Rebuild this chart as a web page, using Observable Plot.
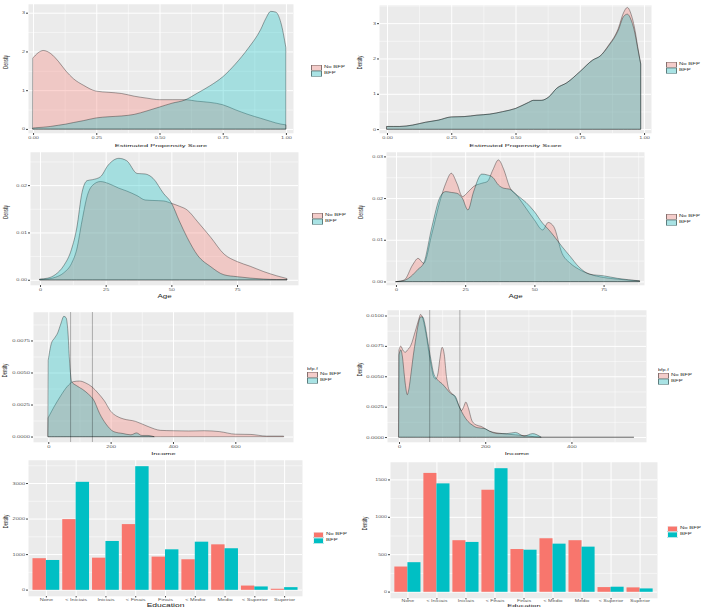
<!DOCTYPE html>
<html><head><meta charset="utf-8">
<script src="https://cdn.jsdelivr.net/npm/d3@7"></script>
<script src="https://cdn.jsdelivr.net/npm/@observablehq/plot@0.6"></script>
<style>
body{margin:0;background:#fff;}
#root{position:relative;width:708px;height:609px;overflow:hidden;font-family:"Liberation Sans",Arial,Helvetica,sans-serif;background:#fff;}
.panel{position:absolute;}
.panel svg path,.panel svg line{vector-effect:non-scaling-stroke;}
.legend{position:absolute;transform-origin:0 0;font-size:6px;color:#333;white-space:nowrap;}
.legend div{position:absolute;}
</style></head><body><div id="root"></div>
<script>
// ---------- data ----------
const groups = ["No BFP", "BFP"];
const groupColors = ["#F8766D", "#00BFC4"];

// Propensity score, before matching
const ps1X = [0,0.02,0.04,0.07,0.1,0.13,0.16,0.2,0.25,0.3,0.35,0.4,0.45,0.5,0.55,0.6,0.65,0.7,0.75,0.8,0.85,0.9,0.92,0.94,0.96,0.98,1.0];
const ps1NoBfp = [1.84,1.97,2.03,1.95,1.75,1.5,1.3,1.13,0.98,0.95,0.92,0.85,0.8,0.76,0.76,0.76,0.72,0.69,0.63,0.5,0.38,0.28,0.24,0.2,0.16,0.13,0.11];
const ps1Bfp = [0.03,0.04,0.05,0.07,0.1,0.13,0.17,0.22,0.29,0.32,0.34,0.38,0.47,0.57,0.67,0.75,0.93,1.12,1.35,1.68,2.08,2.57,2.85,3.04,3.02,2.75,2.1];
// Propensity score, after matching
const ps2X = [0,0.05,0.1,0.15,0.2,0.25,0.3,0.35,0.4,0.45,0.5,0.55,0.57,0.6,0.63,0.66,0.7,0.75,0.8,0.83,0.86,0.9,0.92,0.935,0.95,0.965,0.975,0.987];
const ps2NoBfp = [0.08,0.08,0.12,0.2,0.26,0.35,0.36,0.4,0.43,0.5,0.59,0.76,0.82,0.82,0.92,1.16,1.32,1.63,1.96,2.08,2.36,2.86,3.3,3.45,3.25,2.8,2.35,1.85];
const ps2Bfp = [0.08,0.08,0.12,0.2,0.26,0.35,0.36,0.4,0.43,0.5,0.59,0.76,0.82,0.82,0.92,1.16,1.32,1.63,1.96,2.08,2.34,2.81,3.19,3.26,3.09,2.7,2.3,1.85];
const psTicks = [0,0.25,0.5,0.75,1];
const psTickLabels = ["0.00","0.25","0.50","0.75","1.00"];
const ps1YTicks = [0,1,2,3];
const ps1YTickLabels = ["0","1","2","3"];

// Age, before matching
const age1X = [0,3,6,9,12,14,16,18,20,23,26,30,33,37,40,43,47,50,53,56,60,65,70,75,80,85,90,94];
const age1NoBfp = [0.0001,0.0002,0.0006,0.0015,0.0035,0.0065,0.0125,0.0178,0.0200,0.0208,0.0204,0.0194,0.0188,0.0178,0.0169,0.0168,0.0167,0.0162,0.0156,0.0148,0.0123,0.0090,0.0055,0.0039,0.0029,0.0018,0.0009,0.0003];
const age1Bfp = [0.0002,0.0004,0.0012,0.0030,0.0065,0.0110,0.0185,0.0210,0.0212,0.0218,0.0243,0.0257,0.0252,0.0225,0.0224,0.0215,0.0183,0.0163,0.0125,0.0090,0.0052,0.0028,0.0011,0.0007,0.0004,0.0002,0.0001,0.0001];
// Age, after matching
const age2X = [0,3,6,8,10,13,16,18,20,22,24,26,28,31,33,35,37,39,41,44,47,50,53,55,57,60,63,66,70,75,80,88];
const age2NoBfp = [0,0.0004,0.0040,0.0056,0.0044,0.0116,0.0196,0.0236,0.0260,0.0236,0.0204,0.0215,0.0228,0.0236,0.0240,0.0268,0.0292,0.0268,0.0228,0.0204,0.0176,0.0148,0.0124,0.0142,0.0132,0.0068,0.0044,0.0030,0.0018,0.0010,0.0006,0.0002];
const age2Bfp = [0,0.0003,0.0016,0.0030,0.0044,0.0132,0.0204,0.0216,0.0214,0.0212,0.0200,0.0172,0.0215,0.0258,0.0256,0.0250,0.0232,0.0224,0.0222,0.0206,0.0190,0.0168,0.0140,0.0126,0.0110,0.0084,0.0060,0.0036,0.0018,0.0014,0.0008,0.0002];
const ageTicks = [0,25,50,75];
const ageTickLabels = ["0","25","50","75"];
const age1YTicks = [0,0.01,0.02];
const age1YTickLabels = ["0.00","0.01","0.02"];
const age2YTicks = [0,0.01,0.02,0.03];
const age2YTickLabels = ["0.00","0.01","0.02","0.03"];

// Income, before matching
const inc1XNoBfp = [0,20,40,60,80,100,120,140,160,180,200,220,240,280,320,360,400,450,500,550,600,650,700,755];
const inc1NoBfp = [0.0015,0.0024,0.0032,0.0039,0.0043,0.00435,0.0042,0.0039,0.0034,0.0028,0.0020,0.0016,0.0014,0.0012,0.0008,0.0005,0.00047,0.00045,0.00047,0.0004,0.0002,0.00018,0.00005,0.00005];
const inc1XBfp = [0,10,20,30,40,50,57,63,68,75,90,110,130,145,165,185,210,240,265,283,300,320,340];
const inc1Bfp = [0.0060,0.0073,0.0077,0.0081,0.0088,0.0094,0.0093,0.0082,0.0060,0.0043,0.0040,0.0037,0.0033,0.0029,0.0018,0.0010,0.0004,0.00025,0.00015,0.0003,0.0001,0.0001,0];
// Income, after matching
const inc2XNoBfp = [0,4,10,15,20,25,30,35,40,45,50,55,60,65,70,75,80,85,90,95,100,105,110,115,120,130,140,145,150,155,160,170,180,190,210,240,270,300,330,545];
const inc2NoBfp = [0.0072,0.0075,0.0071,0.0070,0.0072,0.0074,0.0078,0.0084,0.0090,0.0096,0.0101,0.0098,0.0090,0.0080,0.0068,0.0058,0.0050,0.0048,0.0052,0.0065,0.0074,0.0068,0.0050,0.0040,0.0037,0.0033,0.0025,0.0022,0.0025,0.0029,0.0025,0.0013,0.0010,0.0009,0.0005,0.0003,0.0002,0.0001,0,0];
const inc2XBfp = [0,4,8,12,16,19,23,28,33,38,43,50,55,60,65,70,75,80,90,100,110,120,130,140,150,160,170,180,200,210,230,250,270,290,310,330];
const inc2Bfp = [0.0068,0.0072,0.0066,0.0052,0.0040,0.0035,0.0040,0.0053,0.0067,0.0079,0.0090,0.0099,0.0099,0.0093,0.0083,0.0072,0.0062,0.0053,0.0047,0.0044,0.0040,0.0036,0.0034,0.0025,0.0018,0.0013,0.0010,0.0008,0.0007,0.0005,0.0003,0.0003,0.0004,0.0001,0.0003,0];
const incomeCutoffs = [70, 140];
const inc1Ticks = [0,200,400,600];
const inc1TickLabels = ["0","200","400","600"];
const inc2Ticks = [0,200,400];
const inc2TickLabels = ["0","200","400"];
const inc1YTicks = [0,0.0025,0.005,0.0075];
const inc1YTickLabels = ["0.0000","0.0025","0.0050","0.0075"];
const inc2YTicks = [0,0.0025,0.005,0.0075,0.01];
const inc2YTickLabels = ["0.0000","0.0025","0.0050","0.0075","0.0100"];

// Education counts
const eduCats = ["None","< Iniciais","Iniciais","< Finais","Finais","< Medio","Medio","< Superior","Superior"];
const edu1NoBfp = [890,1990,905,1850,935,860,1280,120,30];
const edu1Bfp = [840,3040,1375,3480,1140,1355,1170,95,75];
const edu2NoBfp = [338,1590,690,1365,572,716,690,63,59];
const edu2Bfp = [396,1450,667,1653,563,644,604,68,45];
const edu1YTicks = [0,1000,2000,3000];
const edu1YTickLabels = ["0","1000","2000","3000"];
const edu2YTicks = [0,500,1000,1500];
const edu2YTickLabels = ["0","500","1000","1500"];

// ---------- rendering ----------
const S = 0.58; // vertical squash of the reference image
const FONT = '"Liberation Sans", Arial, Helvetica, sans-serif';
const root = document.getElementById("root");

function minorTicks(ticks, domain) {
  const step = ticks[1] - ticks[0];
  const out = [ticks[0] - step / 2, ...ticks.map(t => t + step / 2)];
  return out.filter(v => v > domain[0] && v < domain[1]);
}
function labeler(ticks, labels) {
  const m = new Map(ticks.map((t, i) => [t, labels[i]]));
  return d => m.get(d) ?? "";
}
function place(svg, cell) {
  const wrap = document.createElement("div");
  wrap.className = "panel";
  wrap.style.left = cell[0] + "px";
  wrap.style.top = cell[1] + "px";
  svg.setAttribute("preserveAspectRatio", "none");
  svg.setAttribute("height", cell[3]);
  svg.style.height = cell[3] + "px";
  svg.style.width = cell[2] + "px";
  svg.style.maxWidth = "none";
  svg.style.display = "block";
  wrap.appendChild(svg);
  root.appendChild(wrap);
}
function addLegend(x, y, title, solid, keyH) {
  const box = document.createElement("div");
  box.className = "legend";
  box.style.left = x + "px";
  box.style.top = y + "px";
  box.style.transform = `scale(1, ${S})`;
  const kh = keyH / S, kw = 11;
  if (title) {
    const t = document.createElement("div");
    t.textContent = title;
    t.style.left = "0px";
    t.style.top = (-8.5) + "px";
    t.style.fontSize = "5.5px";
    box.appendChild(t);
  }
  groups.forEach((g, i) => {
    const k = document.createElement("div");
    k.style.left = "0px";
    k.style.top = (i * kh) + "px";
    k.style.width = kw + "px";
    k.style.height = kh + "px";
    k.style.boxSizing = "border-box";
    if (solid) {
      k.style.background = groupColors[i];
      k.style.border = "1px solid #F2F2F2";
    } else {
      const c = d3.color(groupColors[i]); c.opacity = 0.3;
      k.style.background = `linear-gradient(${c}, ${c}), #F2F2F2`;
      k.style.border = "0.8px solid rgba(0,0,0,0.45)";
    }
    box.appendChild(k);
    const l = document.createElement("div");
    l.textContent = g;
    l.style.left = (kw + 2) + "px";
    l.style.top = (i * kh) + "px";
    l.style.lineHeight = kh + "px";
    box.appendChild(l);
  });
  root.appendChild(box);
}

function commonMarks(cfg) {
  const [cx, cy, cw, ch] = cfg.cell;
  const f = cfg.frame;
  return [
    Plot.text([cfg.xTitle], {text: d => d, frameAnchor: "bottom", dy: (cfg.titleY - f[3]) / S, lineAnchor: "middle", fontSize: cfg.titleFont, fill: "#222"}),
    Plot.text(["Density"], {text: d => d, frameAnchor: "left", rotate: -90, dx: -(f[0] - cx - cfg.yTitleX), lineAnchor: "middle", fontSize: cfg.yTitleFont || 7, fill: "#222"})
  ];
}

function densityPanel(cfg) {
  const [cx, cy, cw, ch] = cfg.cell;
  const f = cfg.frame;
  const rows = [];
  cfg.series.forEach(([xs, ys], gi) => xs.forEach((x, i) => rows.push({x, y: ys[i], g: groups[gi]})));
  const mX = minorTicks(cfg.xTicks, cfg.xDomain), mY = minorTicks(cfg.yTicks, cfg.yDomain);
  const svg = Plot.plot({
    width: cw, height: ch / S,
    marginLeft: f[0] - cx, marginRight: cx + cw - f[2],
    marginTop: (f[1] - cy) / S, marginBottom: (cy + ch - f[3]) / S,
    x: {domain: cfg.xDomain},
    y: {domain: cfg.yDomain},
    color: {domain: groups, range: groupColors},
    style: {fontFamily: FONT, background: "transparent", overflow: "visible"},
    marks: [
      Plot.frame({fill: "#EBEBEB", stroke: "none"}),
      Plot.gridX({ticks: mX, stroke: "#fff", strokeOpacity: 1, strokeWidth: 0.5}),
      Plot.gridY({ticks: mY, stroke: "#fff", strokeOpacity: 1, strokeWidth: 0.5}),
      Plot.gridX({ticks: cfg.xTicks, stroke: "#fff", strokeOpacity: 1, strokeWidth: 1}),
      Plot.gridY({ticks: cfg.yTicks, stroke: "#fff", strokeOpacity: 1, strokeWidth: 1}),
      Plot.areaY(rows, {x: "x", y1: 0, y2: "y", z: "g", fill: "g", fillOpacity: 0.3, curve: "monotone-x", stroke: "#000", strokeOpacity: 0.45, strokeWidth: 0.75}),
      cfg.vlines ? Plot.ruleX(cfg.vlines, {stroke: "#000", strokeOpacity: 0.4, strokeWidth: 0.7}) : null,
      Plot.axisX({ticks: cfg.xTicks, tickFormat: labeler(cfg.xTicks, cfg.xLabels), tickSize: 2 / S, tickPadding: 1 / S, fontSize: cfg.tickFont, fill: "#555", stroke: "#444", label: null}),
      Plot.axisY({ticks: cfg.yTicks, tickFormat: labeler(cfg.yTicks, cfg.yLabels), tickSize: 2, tickPadding: 1.5, fontSize: cfg.tickFont, fill: "#555", stroke: "#444", label: null}),
      ...commonMarks(cfg)
    ]
  });
  place(svg, cfg.cell);
  addLegend(cfg.legend[0], cfg.legend[1], cfg.legendTitle, false, 5.7);
}

function barPanel(cfg) {
  const [cx, cy, cw, ch] = cfg.cell;
  const f = cfg.frame;
  const step = (f[2] - f[0]) / (eduCats.length - 0.1 + 2 * 0.15);
  const half = step * 0.9 / 2;
  const rowsA = eduCats.map((c, i) => ({c, v: cfg.noBfp[i], g: groups[0]}));
  const rowsB = eduCats.map((c, i) => ({c, v: cfg.bfp[i], g: groups[1]}));
  const mY = minorTicks(cfg.yTicks, cfg.yDomain);
  const svg = Plot.plot({
    width: cw, height: ch / S,
    marginLeft: f[0] - cx, marginRight: cx + cw - f[2],
    marginTop: (f[1] - cy) / S, marginBottom: (cy + ch - f[3]) / S,
    x: {type: "band", domain: eduCats, paddingInner: 0.1, paddingOuter: 0.15, align: 0.5, round: false},
    y: {domain: cfg.yDomain},
    color: {domain: groups, range: groupColors},
    style: {fontFamily: FONT, background: "transparent", overflow: "visible"},
    marks: [
      Plot.frame({fill: "#EBEBEB", stroke: "none"}),
      Plot.gridY({ticks: mY, stroke: "#fff", strokeOpacity: 1, strokeWidth: 0.5}),
      Plot.gridY({ticks: cfg.yTicks, stroke: "#fff", strokeOpacity: 1, strokeWidth: 1}),
      Plot.gridX({stroke: "#fff", strokeOpacity: 1, strokeWidth: 1}),
      Plot.barY(rowsA, {x: "c", y1: 0, y2: "v", fill: "g", insetRight: half}),
      Plot.barY(rowsB, {x: "c", y1: 0, y2: "v", fill: "g", insetLeft: half}),
      Plot.axisX({tickSize: 1.5 / S, tickPadding: 0.5 / S, fontSize: cfg.tickFont, fill: "#555", stroke: "#444", label: null}),
      Plot.axisY({ticks: cfg.yTicks, tickFormat: labeler(cfg.yTicks, cfg.yLabels), tickSize: 2, tickPadding: 1.5, fontSize: cfg.tickFont, fill: "#555", stroke: "#444", label: null}),
      ...commonMarks(cfg)
    ]
  });
  place(svg, cfg.cell);
  addLegend(cfg.legend[0], cfg.legend[1], null, true, 5.7);
}

densityPanel({cell: [0, 0, 354, 150], frame: [28, 4, 293, 133], xDomain: [-0.02, 1.028], yDomain: [-0.1, 3.23],
  series: [[ps1X, ps1NoBfp], [ps1X, ps1Bfp]], xTicks: psTicks, xLabels: psTickLabels, yTicks: ps1YTicks, yLabels: ps1YTickLabels,
  xTitle: "Estimated Propensity Score", titleY: 145.5, titleFont: 7.5, tickFont: 5.5, yTitleX: 5, legend: [311, 65]});
densityPanel({cell: [354, 0, 354, 150], frame: [379, 5, 651, 133], xDomain: [-0.031, 1.027], yDomain: [-0.105, 3.52],
  series: [[ps2X, ps2NoBfp], [ps2X, ps2Bfp]], xTicks: psTicks, xLabels: psTickLabels, yTicks: ps1YTicks, yLabels: ps1YTickLabels,
  xTitle: "Estimated Propensity Score", titleY: 145.5, titleFont: 7.5, tickFont: 5.5, yTitleX: 5, legend: [666, 62]});
densityPanel({cell: [0, 150, 354, 150], frame: [30, 152, 298, 285], xDomain: [-3.8, 98.2], yDomain: [-0.00106, 0.02704],
  series: [[age1X, age1NoBfp], [age1X, age1Bfp]], xTicks: ageTicks, xLabels: ageTickLabels, yTicks: age1YTicks, yLabels: age1YTickLabels,
  xTitle: "Age", titleY: 296, titleFont: 8, tickFont: 5.5, yTitleX: 5, legend: [312, 213]});
densityPanel({cell: [354, 150, 354, 150], frame: [386, 152, 644, 285], xDomain: [-3.6, 89.6], yDomain: [-0.0008, 0.0311],
  series: [[age2X, age2NoBfp], [age2X, age2Bfp]], xTicks: ageTicks, xLabels: ageTickLabels, yTicks: age2YTicks, yLabels: age2YTickLabels,
  xTitle: "Age", titleY: 296, titleFont: 8, tickFont: 5.5, yTitleX: 6, legend: [666, 214]});
densityPanel({cell: [0, 300, 354, 158], frame: [33, 312, 293, 442], xDomain: [-49, 785], yDomain: [-0.00041, 0.00974],
  series: [[inc1XNoBfp, inc1NoBfp], [inc1XBfp, inc1Bfp]], xTicks: inc1Ticks, xLabels: inc1TickLabels, yTicks: inc1YTicks, yLabels: inc1YTickLabels,
  vlines: incomeCutoffs, xTitle: "Income", titleY: 453.5, titleFont: 7.5, tickFont: 5.8, yTitleX: 4.5, legend: [307, 372], legendTitle: "bfp.f"});
densityPanel({cell: [354, 300, 354, 158], frame: [387, 310, 646, 442], xDomain: [-27.9, 573], yDomain: [-0.00039, 0.01047],
  series: [[inc2XNoBfp, inc2NoBfp], [inc2XBfp, inc2Bfp]], xTicks: inc2Ticks, xLabels: inc2TickLabels, yTicks: inc2YTicks, yLabels: inc2YTickLabels,
  vlines: incomeCutoffs, xTitle: "Income", titleY: 453.5, titleFont: 7.5, tickFont: 5.8, yTitleX: 5.5, legend: [658, 373], legendTitle: "bfp.f"});
barPanel({cell: [0, 458, 354, 151], frame: [28, 460, 302, 596], yDomain: [-174, 3654],
  noBfp: edu1NoBfp, bfp: edu1Bfp, yTicks: edu1YTicks, yLabels: edu1YTickLabels,
  xTitle: "Education", titleY: 605.5, titleFont: 8.5, tickFont: 5.6, yTitleX: 5, legend: [313, 532]});
barPanel({cell: [354, 458, 354, 151], frame: [390, 462, 657, 598], yDomain: [-83, 1736],
  noBfp: edu2NoBfp, bfp: edu2Bfp, yTicks: edu2YTicks, yLabels: edu2YTickLabels,
  xTitle: "Education", titleY: 605, titleFont: 7.5, tickFont: 5.3, yTitleX: 10, legend: [667, 526]});
</script></body></html>
